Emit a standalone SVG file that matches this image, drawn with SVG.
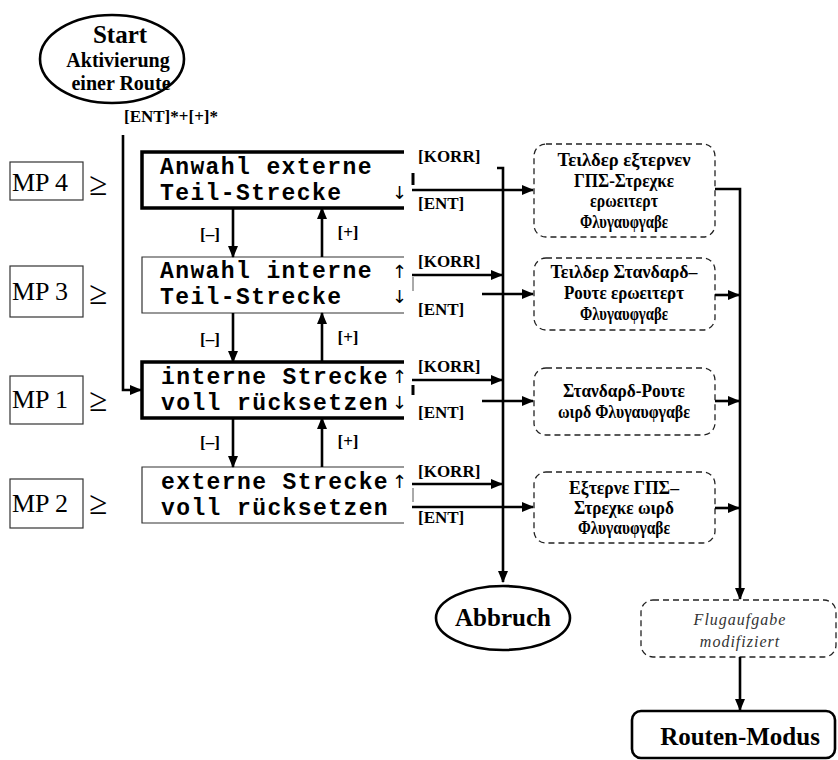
<svg xmlns="http://www.w3.org/2000/svg" width="838" height="760" viewBox="0 0 838 760">
<style>
.bg{fill:#fff}
.mono{font-family:"Liberation Mono","Courier New",monospace;font-weight:bold;font-size:23px;letter-spacing:1.4px;fill:#000}
.arr{font-family:"DejaVu Sans",sans-serif;font-size:18px;fill:#000}
.lbl{font-family:"Liberation Serif","Times New Roman",serif;font-weight:bold;font-size:17px;fill:#000}
.mp{font-family:"Liberation Serif","Times New Roman",serif;font-size:26px;fill:#000}
.ge{font-family:"Liberation Serif","Times New Roman",serif;font-size:33px;fill:#000}
.gr{font-family:"Liberation Serif","Times New Roman",serif;font-weight:bold;font-size:18px;fill:#000;text-anchor:middle}
.title{font-family:"Liberation Serif","Times New Roman",serif;font-weight:bold;fill:#000;text-anchor:middle}
.it{font-family:"Liberation Serif","Times New Roman",serif;font-style:italic;font-size:16px;letter-spacing:1px;fill:#333;text-anchor:middle}
.thick{fill:none;stroke:#000;stroke-width:3.5}
.thin{fill:none;stroke:#333;stroke-width:1.2}
.dash{fill:#fff;stroke:#222;stroke-width:1.3;stroke-dasharray:6 4}
.mpbox{fill:#fff;stroke:#333;stroke-width:1.2}
.con{fill:none;stroke:#000;stroke-width:2.6}
</style>
<defs>
<marker id="ah" markerUnits="userSpaceOnUse" markerWidth="12" markerHeight="10" refX="11" refY="5" orient="auto">
<path d="M0,0 L12,5 L0,10 z" fill="#000"/>
</marker>
</defs>
<rect class="bg" x="0" y="0" width="838" height="760"/>

<g id="start">
<ellipse cx="112" cy="59" rx="72" ry="44" fill="#fff" stroke="#000" stroke-width="2.6"/>
<text class="title" x="120" y="43" font-size="25">Start</text>
<text class="title" x="118" y="67" font-size="20">Aktivierung</text>
<text class="title" x="121" y="90" font-size="20">einer Route</text>
</g>
<text class="lbl" x="124" y="122" font-size="15">[ENT]*+[+]*</text>

<g id="mp4"><rect class="mpbox" x="10" y="162" width="73" height="38"/><text class="mp" x="12" y="191">MP 4</text><text class="ge" x="89" y="195">≥</text></g>
<g id="mp3"><rect class="mpbox" x="10" y="266" width="73" height="51"/><text class="mp" x="12" y="300">MP 3</text><text class="ge" x="89" y="304">≥</text></g>
<g id="mp1"><rect class="mpbox" x="10" y="376" width="73" height="48"/><text class="mp" x="12" y="408">MP 1</text><text class="ge" x="89" y="411">≥</text></g>
<g id="mp2"><rect class="mpbox" x="10" y="479" width="73" height="49"/><text class="mp" x="12" y="512">MP 2</text><text class="ge" x="89" y="514">≥</text></g>

<g id="box1">
<path class="thick" d="M404,152 H142 V208 H404"/>
<text class="mono" x="160" y="174">Anwahl externe</text>
<text class="mono" x="160" y="200">Teil-Strecke</text>
<text class="arr" x="392" y="199">↓</text>
</g>
<g id="box2">
<path class="thin" d="M404,257 H142 V313 H404"/>
<text class="mono" x="160" y="278">Anwahl interne</text>
<text class="mono" x="160" y="304">Teil-Strecke</text>
<text class="arr" x="392" y="278">↑</text>
<text class="arr" x="392" y="303">↓</text>
</g>
<g id="box3">
<path class="thick" d="M404,362 H142 V418 H404"/>
<text class="mono" x="161" y="384">interne Strecke</text>
<text class="mono" x="161" y="410">voll rücksetzen</text>
<text class="arr" x="392" y="383">↑</text>
<text class="arr" x="392" y="409">↓</text>
</g>
<g id="box4">
<path class="thin" d="M404,467 H142 V523 H404"/>
<text class="mono" x="161" y="489">externe Strecke</text>
<text class="mono" x="161" y="515">voll rücksetzen</text>
<text class="arr" x="392" y="488">↑</text>
</g>

<g id="d1">
<rect class="dash" x="534" y="144" width="181" height="93" rx="12"/>
<text class="gr" x="624" y="166" textLength="133" lengthAdjust="spacingAndGlyphs">Τειλδερ εξτερνεν</text>
<text class="gr" x="624" y="187" textLength="100" lengthAdjust="spacingAndGlyphs">ΓΠΣ-Στρεχκε</text>
<text class="gr" x="624" y="207" textLength="68" lengthAdjust="spacingAndGlyphs">ερωειτερτ</text>
<text class="gr" x="624" y="228" textLength="88" lengthAdjust="spacingAndGlyphs">Φλυγαυφγαβε</text>
</g>
<g id="d2">
<rect class="dash" x="534" y="258" width="181" height="72" rx="12"/>
<text class="gr" x="624" y="278" textLength="147" lengthAdjust="spacingAndGlyphs">Τειλδερ Στανδαρδ–</text>
<text class="gr" x="624" y="299" textLength="120" lengthAdjust="spacingAndGlyphs">Ρουτε ερωειτερτ</text>
<text class="gr" x="624" y="320" textLength="88" lengthAdjust="spacingAndGlyphs">Φλυγαυφγαβε</text>
</g>
<g id="d3">
<rect class="dash" x="534" y="368" width="181" height="67" rx="12"/>
<text class="gr" x="624" y="397" textLength="122" lengthAdjust="spacingAndGlyphs">Στανδαρδ-Ρουτε</text>
<text class="gr" x="624" y="418" textLength="132" lengthAdjust="spacingAndGlyphs">ωιρδ Φλυγαυφγαβε</text>
</g>
<g id="d4">
<rect class="dash" x="534" y="472" width="181" height="71" rx="12"/>
<text class="gr" x="624" y="494" textLength="110" lengthAdjust="spacingAndGlyphs">Εξτερνε ΓΠΣ–</text>
<text class="gr" x="624" y="514" textLength="100" lengthAdjust="spacingAndGlyphs">Στρεχκε ωιρδ</text>
<text class="gr" x="624" y="534" textLength="92" lengthAdjust="spacingAndGlyphs">Φλυγαυφγαβε</text>
</g>

<g id="abbruch">
<ellipse cx="503" cy="618" rx="67" ry="32" fill="#fff" stroke="#000" stroke-width="2.6"/>
<text class="title" x="503" y="626" font-size="25">Abbruch</text>
</g>
<g id="modifiziert">
<rect class="dash" x="641" y="600" width="195" height="57" rx="12"/>
<text class="it" x="740" y="625">Flugaufgabe</text>
<text class="it" x="740" y="647">modifiziert</text>
</g>
<g id="routen">
<rect x="632" y="711" width="203" height="47" rx="9" fill="#fff" stroke="#000" stroke-width="2.6"/>
<text class="title" x="740" y="745" font-size="25">Routen-Modus</text>
</g>

<g id="connectors">
<path class="con" d="M123,135 V390 H141" marker-end="url(#ah)"/>
<path class="con" d="M233,208 V257" marker-end="url(#ah)"/>
<path class="con" d="M322,257 V208" marker-end="url(#ah)"/>
<path class="con" d="M233,313 V362" marker-end="url(#ah)"/>
<path class="con" d="M322,362 V313" marker-end="url(#ah)"/>
<path class="con" d="M233,418 V467" marker-end="url(#ah)"/>
<path class="con" d="M322,467 V418" marker-end="url(#ah)"/>
<path class="con" d="M497,168 H503 V582" marker-end="url(#ah)"/>
<path class="con" d="M412,190 H533" marker-end="url(#ah)"/>
<path class="con" d="M412,275 H502" marker-end="url(#ah)"/>
<path class="con" d="M482,294 H533" marker-end="url(#ah)"/>
<path class="con" d="M412,380 H502" marker-end="url(#ah)"/>
<path class="con" d="M482,401 H533" marker-end="url(#ah)"/>
<path class="con" d="M412,484 H502" marker-end="url(#ah)"/>
<path class="con" d="M412,507 H533" marker-end="url(#ah)"/>
<path class="con" d="M715,189 H740 V599" marker-end="url(#ah)"/>
<path class="con" d="M715,295 H739" marker-end="url(#ah)"/>
<path class="con" d="M715,401 H739" marker-end="url(#ah)"/>
<path class="con" d="M715,508 H739" marker-end="url(#ah)"/>
<path class="con" d="M740,657 V710" marker-end="url(#ah)"/>
<path d="M413,173 V185" stroke="#000" stroke-width="3"/>
<path d="M413,277 V291" stroke="#555" stroke-width="1"/>
<path d="M413,385 V395" stroke="#000" stroke-width="3"/>
<path d="M413,488 V502" stroke="#555" stroke-width="1"/>
<text class="lbl" x="418" y="162">[KORR]</text>
<text class="lbl" x="418" y="209">[ENT]</text>
<text class="lbl" x="418" y="267">[KORR]</text>
<text class="lbl" x="418" y="315">[ENT]</text>
<text class="lbl" x="418" y="372">[KORR]</text>
<text class="lbl" x="418" y="418">[ENT]</text>
<text class="lbl" x="418" y="477">[KORR]</text>
<text class="lbl" x="418" y="523">[ENT]</text>
<text class="lbl" x="210" y="240" font-size="15" text-anchor="middle">[–]</text>
<text class="lbl" x="348" y="238" font-size="15" text-anchor="middle">[+]</text>
<text class="lbl" x="210" y="345" font-size="15" text-anchor="middle">[–]</text>
<text class="lbl" x="348" y="343" font-size="15" text-anchor="middle">[+]</text>
<text class="lbl" x="210" y="448" font-size="15" text-anchor="middle">[–]</text>
<text class="lbl" x="348" y="447" font-size="15" text-anchor="middle">[+]</text>
</g>
</svg>
